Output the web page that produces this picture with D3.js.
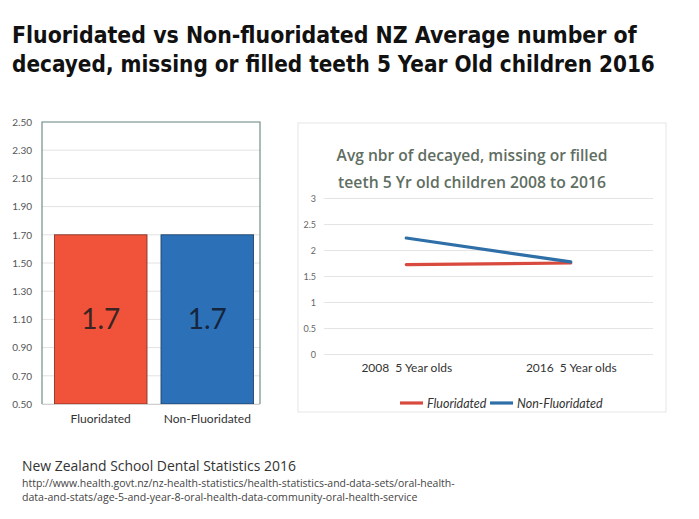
<!DOCTYPE html>
<html>
<head>
<meta charset="utf-8">
<script src="https://cdn.jsdelivr.net/npm/d3@7/dist/d3.min.js"></script>
<style>
  html, body { margin: 0; padding: 0; background: #ffffff; }
  svg { display: block; }
</style>
</head>
<body>
<svg id="chart" width="699" height="519"></svg>
<script>
// ---------- data ----------
const titleLines = [
  "Fluoridated vs Non-fluoridated NZ Average number of",
  "decayed, missing or filled teeth 5 Year Old children 2016"
];
const barCategories = ["Fluoridated", "Non-Fluoridated"];
const barValues = [1.7, 1.7];
const barTicks = [0.5, 0.7, 0.9, 1.1, 1.3, 1.5, 1.7, 1.9, 2.1, 2.3, 2.5];

const lineTitle = ["Avg nbr of decayed, missing or filled", "teeth 5 Yr old children 2008 to 2016"];
const lineCategories = ["2008  5 Year olds", "2016  5 Year olds"];
const fluoridated = [1.73, 1.76];
const nonFluoridated = [2.24, 1.78];
const lineTicks = [0, 0.5, 1, 1.5, 2, 2.5, 3];
const seriesNames = ["Fluoridated", "Non-Fluoridated"];

const sourceTitle = "New Zealand School Dental Statistics 2016";
const sourceUrl = [
  "http://www.health.govt.nz/nz-health-statistics/health-statistics-and-data-sets/oral-health-",
  "data-and-stats/age-5-and-year-8-oral-health-data-community-oral-health-service"
];

// ---------- drawing ----------
const svg = d3.select("#chart");
const fitText = (sel, w) => {
  sel.each(function () {
    const len = this.getComputedTextLength();
    if (len > 0) {
      const fs = parseFloat(d3.select(this).attr("font-size"));
      d3.select(this).attr("font-size", fs * w / len);
    }
  });
};

// main title
const titleFont = "'Liberation Sans Narrow','DejaVu Sans Condensed',sans-serif";
svg.selectAll("text.title").data(titleLines).join("text")
  .attr("class", "title")
  .attr("x", 12).attr("y", (d, i) => 43 + i * 29)
  .attr("font-family", titleFont).attr("font-weight", "bold")
  .attr("font-size", 26).attr("fill", "#111")
  .text(d => d);
fitText(svg.selectAll("text.title").filter((d, i) => i === 0), 625);
fitText(svg.selectAll("text.title").filter((d, i) => i === 1), 643);

// ---------- bar chart ----------
const bx0 = 42, bx1 = 260, by0 = 122, by1 = 404;
const xb = d3.scaleBand().domain(barCategories).range([bx0 + 6, bx1]).paddingInner(0.131).paddingOuter(0.06);
const yb = d3.scaleLinear().domain([0.5, 2.5]).range([by1, by0]);

const gBar = svg.append("g");
gBar.append("g").selectAll("line").data(barTicks).join("line")
  .attr("x1", bx0).attr("x2", bx1)
  .attr("y1", d => yb(d)).attr("y2", d => yb(d))
  .attr("stroke", "#e2e2e2").attr("stroke-width", 1);

const yAxisB = d3.axisLeft(yb).tickValues(barTicks).tickFormat(d3.format(".2f")).tickSize(0).tickPadding(10);
gBar.append("g").attr("transform", `translate(${bx0},0)`).call(yAxisB)
  .call(g => g.select(".domain").remove())
  .selectAll("text").attr("font-family", "Lato, sans-serif").attr("font-size", 10).attr("fill", "#555");

const barColors = ["#f1533a", "#2c71b8"];
const barLabelColors = ["#3b2424", "#15253d"];
gBar.selectAll("rect.bar").data(barValues).join("rect")
  .attr("class", "bar")
  .attr("x", (d, i) => xb(barCategories[i]))
  .attr("width", xb.bandwidth())
  .attr("y", d => yb(d))
  .attr("height", d => yb(0.5) - yb(d))
  .attr("fill", (d, i) => barColors[i])
  .attr("stroke", (d, i) => i === 0 ? "#7a2a1e" : "#173a60")
  .attr("stroke-width", 0.8);

gBar.selectAll("text.val").data(barValues).join("text")
  .attr("class", "val")
  .attr("x", (d, i) => xb(barCategories[i]) + xb.bandwidth() / 2)
  .attr("y", yb(1.1) + 10)
  .attr("text-anchor", "middle")
  .attr("font-family", "Lato, sans-serif").attr("font-size", 28)
  .attr("fill", (d, i) => barLabelColors[i])
  .text(d => d.toFixed(1));

const xAxisB = d3.axisBottom(xb).tickSize(0).tickPadding(10);
gBar.append("g").attr("transform", `translate(0,${by1})`).call(xAxisB)
  .call(g => g.select(".domain").attr("d", `M${bx0},0.5H${bx1}`).attr("stroke", "#cfcfcf"))
  .selectAll("text").attr("font-family", "Lato, sans-serif").attr("font-size", 12).attr("fill", "#333");

// border box
gBar.append("path")
  .attr("d", `M${bx0},${by1}V${by0}H${bx1}V${by1}`)
  .attr("fill", "none").attr("stroke", "#6e9089").attr("stroke-width", 1.2);

// ---------- line chart ----------
const lx0 = 298, lx1 = 666, ly0 = 123, ly1 = 412;
svg.append("rect").attr("x", lx0).attr("y", ly0).attr("width", lx1 - lx0).attr("height", ly1 - ly0)
  .attr("fill", "#fff").attr("stroke", "#e6e6e6").attr("stroke-width", 1);

const gl0 = 324, gl1 = 653;
const xl = d3.scalePoint().domain(lineCategories).range([gl0, gl1]).padding(0.5);
const yl = d3.scaleLinear().domain([0, 3]).range([354.5, 198.5]);
const gLine = svg.append("g");

gLine.selectAll("text.ltitle").data(lineTitle).join("text")
  .attr("class", "ltitle")
  .attr("x", 472).attr("y", (d, i) => 161 + i * 27)
  .attr("text-anchor", "middle")
  .attr("font-family", "'Open Sans', Lato, sans-serif").attr("font-weight", 600)
  .attr("font-size", 15).attr("fill", "#5f6e62")
  .text(d => d);
fitText(gLine.selectAll("text.ltitle").filter((d, i) => i === 0), 271);
fitText(gLine.selectAll("text.ltitle").filter((d, i) => i === 1), 268);

gLine.append("g").selectAll("line").data(lineTicks).join("line")
  .attr("x1", gl0).attr("x2", gl1)
  .attr("y1", d => yl(d)).attr("y2", d => yl(d))
  .attr("stroke", "#e4e4e4").attr("stroke-width", 1);

const yAxisL = d3.axisLeft(yl).tickValues(lineTicks).tickFormat(d => String(d)).tickSize(0).tickPadding(8);
gLine.append("g").attr("transform", `translate(${gl0},0)`).call(yAxisL)
  .call(g => g.select(".domain").remove())
  .selectAll("text").attr("font-family", "Lato, sans-serif").attr("font-size", 9).attr("fill", "#666");

const xAxisL = d3.axisBottom(xl).tickSize(0).tickPadding(9);
gLine.append("g").attr("transform", `translate(0,${yl(0)})`).call(xAxisL)
  .call(g => g.select(".domain").remove())
  .selectAll("text").attr("font-family", "Lato, sans-serif").attr("font-size", 12).attr("fill", "#333")
  .attr("xml:space", "preserve").style("white-space", "pre");

const lineGen = d3.line().x((d, i) => xl(lineCategories[i])).y(d => yl(d));
const seriesData = [fluoridated, nonFluoridated];
const lineColors = ["#d94a3e", "#2f6fa8"];
gLine.selectAll("path.series").data(seriesData).join("path")
  .attr("class", "series")
  .attr("d", lineGen)
  .attr("fill", "none")
  .attr("stroke", (d, i) => lineColors[i])
  .attr("stroke-width", 3.2)
  .attr("stroke-linecap", "round");

// legend
const legX = [400, 490];
const legY = 403;
const leg = gLine.selectAll("g.leg").data(seriesNames).join("g").attr("class", "leg")
  .attr("transform", (d, i) => `translate(${legX[i]},${legY})`);
leg.append("line").attr("x1", 0).attr("x2", 23).attr("y1", 0).attr("y2", 0)
  .attr("stroke", (d, i) => lineColors[i]).attr("stroke-width", 3.2);
leg.append("text").attr("x", 27).attr("y", 4.5)
  .attr("font-family", "Lato, sans-serif").attr("font-style", "italic").attr("font-size", 12.5).attr("fill", "#333")
  .text(d => d);

// ---------- source ----------
svg.append("text").attr("x", 22).attr("y", 471)
  .attr("font-family", "'Open Sans', sans-serif").attr("font-size", 14).attr("fill", "#333")
  .text(sourceTitle).call(fitText, 274);
svg.selectAll("text.url").data(sourceUrl).join("text").attr("class", "url")
  .attr("x", 22).attr("y", (d, i) => 487 + i * 14)
  .attr("font-family", "'Open Sans', sans-serif").attr("font-size", 10).attr("fill", "#444")
  .text(d => d);
fitText(svg.selectAll("text.url").filter((d, i) => i === 0), 433);
fitText(svg.selectAll("text.url").filter((d, i) => i === 1), 396);
</script>
</body>
</html>
